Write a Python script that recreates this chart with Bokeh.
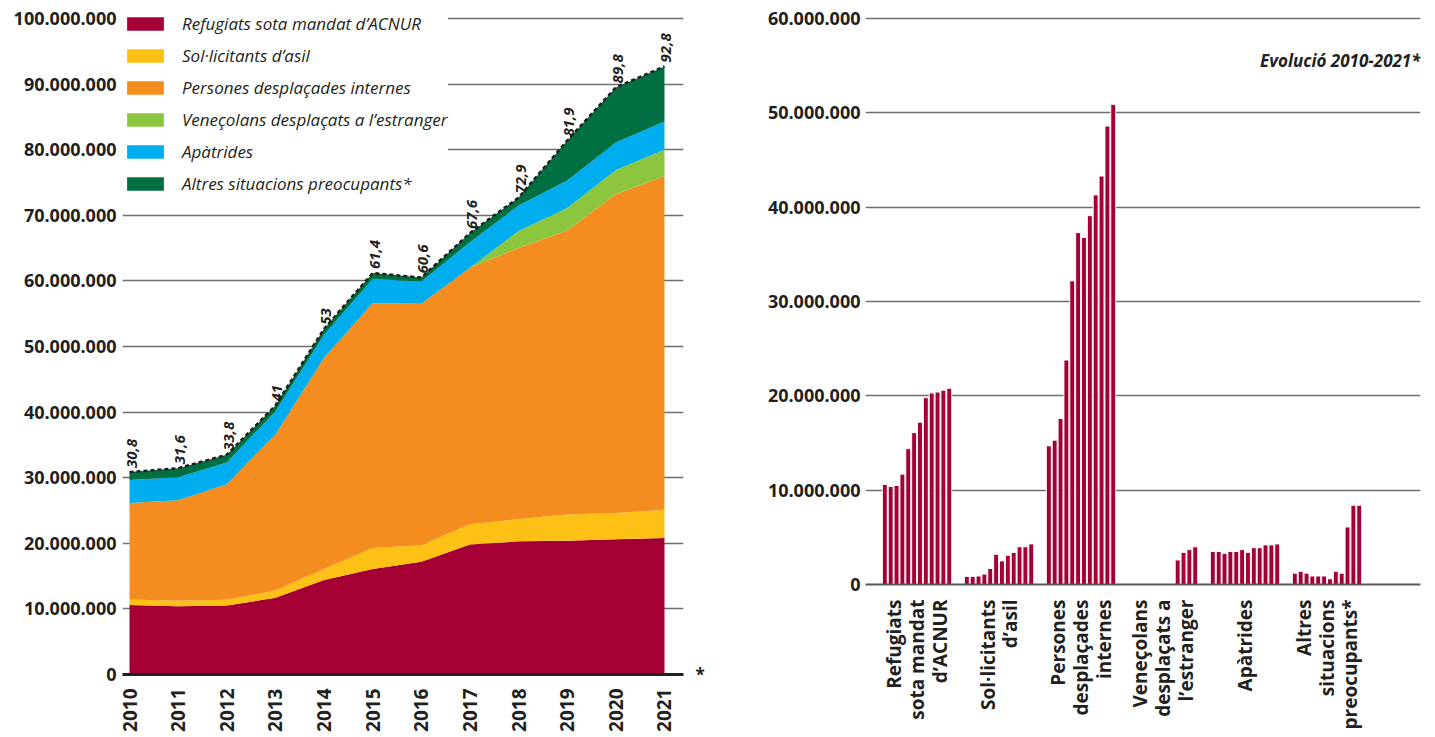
import math
from bokeh.plotting import figure
from bokeh.models import ColumnDataSource, FixedTicker, Label, LinearAxis
from bokeh.layouts import row
from bokeh.embed import file_html
from bokeh.resources import INLINE
from bokeh.core.properties import value

# ---------------- data (millions of people) ----------------
years = list(range(2010, 2022))
refugiats = [10.6, 10.4, 10.5, 11.7, 14.4, 16.1, 17.2, 19.8, 20.3, 20.4, 20.6, 20.8]
sollicitants = [0.85, 0.85, 0.9, 1.1, 1.7, 3.2, 2.5, 3.1, 3.4, 4.0, 4.0, 4.3]
desplacades = [14.7, 15.3, 17.6, 23.8, 32.2, 37.3, 36.8, 39.1, 41.3, 43.3, 48.6, 50.9]
venecolans = [0, 0, 0, 0, 0, 0, 0, 0, 2.6, 3.4, 3.7, 4.0]
apatrides = [3.5, 3.5, 3.3, 3.5, 3.5, 3.7, 3.4, 3.9, 3.9, 4.2, 4.2, 4.3]
altres = [1.2, 1.4, 1.2, 0.9, 0.9, 0.9, 0.6, 1.4, 1.2, 6.1, 8.4, 8.4]
totals = [30.8, 31.6, 33.8, 41, 53, 61.4, 60.6, 67.6, 72.9, 81.9, 89.8, 92.8]

series_names = [
    "Refugiats sota mandat d\u2019ACNUR",
    "Sol\u00b7licitants d\u2019asil",
    "Persones despla\u00e7ades internes",
    "Vene\u00e7olans despla\u00e7ats a l\u2019estranger",
    "Ap\u00e0trides",
    "Altres situacions preocupants*",
]
category_labels = [
    "Refugiats\nsota mandat\nd\u2019ACNUR",
    "Sol\u00b7licitants\nd\u2019asil",
    "Persones\ndespla\u00e7ades\ninternes",
    "Vene\u00e7olans\ndespla\u00e7ats a\nl\u2019estranger",
    "Ap\u00e0trides",
    "Altres\nsituacions\npreocupants*",
]
colors = ["#a50034", "#fcc114", "#f48c20", "#8cc63f", "#00aeef", "#007042"]
left_ticks = [0, 10_000_000, 20_000_000, 30_000_000, 40_000_000, 50_000_000,
              60_000_000, 70_000_000, 80_000_000, 90_000_000, 100_000_000]
right_ticks = [0, 10_000_000, 20_000_000, 30_000_000, 40_000_000, 50_000_000, 60_000_000]
title_text = "Evoluci\u00f3 2010-2021*"
footnote_mark = "*"

M = 1_000_000
TXT = "#231f20"
GRID = "#6d6e71"
FONT = "Open Sans"


def fmt(v):
    return f"{v:,}".replace(",", ".")


all_series = [refugiats, sollicitants, desplacades, venecolans, apatrides, altres]
keys = ["s0", "s1", "s2", "s3", "s4", "s5"]

# ---------------- left: stacked areas ----------------
data = {"year": years}
for k, s in zip(keys, all_series):
    data[k] = [v * M for v in s]
data["top"] = [sum(vals) * M for vals in zip(*all_series)]
data["label"] = [f"{t:g}".replace(".", ",") for t in totals]
src = ColumnDataSource(data)

p1 = figure(width=718, height=735, x_range=(2009.856, 2021.391), y_range=(0, 100.915e6),
            output_backend="svg", toolbar_location=None, frame_align=False,
            min_border_left=122, min_border_right=35, min_border_top=12, min_border_bottom=61)
p1.varea_stack(stackers=keys, x="year", color=colors, source=src, legend_label=series_names)
p1.line(x="year", y="top", source=src, line_color=TXT, line_width=2.5, line_dash="4 3")
p1.text(x="year", y="top", text="label", source=src, angle=math.pi / 2,
        text_align="left", text_baseline="middle", x_offset=2, y_offset=-4,
        text_font=value(FONT), text_font_style="bold italic", text_font_size="15px",
        text_color=TXT)

p1.xaxis.ticker = FixedTicker(ticks=years)
p1.xaxis.major_label_orientation = math.pi / 2
p1.xaxis.major_label_text_font = FONT
p1.xaxis.major_label_text_font_style = "bold"
p1.xaxis.major_label_text_font_size = "19px"
p1.xaxis.major_label_text_color = TXT
p1.xaxis.major_label_standoff = 14
p1.xaxis.major_tick_out = 0
p1.xaxis.major_tick_in = 0
p1.xaxis.axis_line_width = 3
p1.xaxis.axis_line_color = TXT
p1.xaxis.major_tick_line_color = None
p1.xaxis.minor_tick_line_color = None
p1.xgrid.grid_line_color = None

p1.yaxis.ticker = FixedTicker(ticks=left_ticks)
p1.yaxis.major_label_overrides = {t: fmt(t) for t in left_ticks}
p1.yaxis.major_label_text_font = FONT
p1.yaxis.major_label_text_font_style = "bold"
p1.yaxis.major_label_text_font_size = "18px"
p1.yaxis.major_label_text_color = TXT
p1.yaxis.major_label_standoff = 6
p1.yaxis.major_tick_out = 0
p1.yaxis.major_tick_in = 0
p1.yaxis.axis_line_color = None
p1.yaxis.major_tick_line_color = None
p1.yaxis.minor_tick_line_color = None
p1.ygrid.grid_line_color = GRID
p1.ygrid.grid_line_width = 1.5
p1.outline_line_color = None

# footnote asterisk at the right end of the baseline, drawn as a one-tick axis
star_axis = LinearAxis(ticker=FixedTicker(ticks=[0]), major_label_overrides={0: footnote_mark},
                       axis_line_color=None, major_tick_line_color=None, major_tick_out=0,
                       major_tick_in=0, minor_tick_line_color=None, major_label_standoff=12,
                       major_label_text_font=FONT, major_label_text_font_style="bold",
                       major_label_text_font_size="17px", major_label_text_color=TXT)
p1.add_layout(star_axis, "right")

lg = p1.legend[0]
lg.location = "top_left"
lg.margin = 0
lg.padding = 8
lg.glyph_width = 46
lg.glyph_height = 17
lg.label_height = 17
lg.spacing = 9
lg.label_standoff = 14
lg.label_text_font = FONT
lg.label_text_font_style = "italic"
lg.label_text_font_size = "17px"
lg.label_text_color = TXT
lg.background_fill_color = "white"
lg.background_fill_alpha = 1
lg.border_line_color = None

# ---------------- right: grouped bars ----------------
GROUP_STEP = 14
bx, btop = [], []
for g, s in enumerate(all_series):
    for i, v in enumerate(s):
        bx.append(g * GROUP_STEP + i)
        btop.append(v * M)
bsrc = ColumnDataSource(dict(x=bx, top=btop))
centers = [g * GROUP_STEP + (len(years) - 1) / 2 for g in range(len(all_series))]

p2 = figure(width=707, height=733, x_range=(-3.3, 91.46), y_range=(0, 60.64e6),
            output_backend="svg", toolbar_location=None, frame_align=False,
            min_border_left=147, min_border_right=5, min_border_top=12, min_border_bottom=149)
p2.vbar(x="x", top="top", bottom=0, width=0.84, source=bsrc,
        fill_color="#a50034", line_color="white", line_width=0.95)

p2.xaxis.ticker = FixedTicker(ticks=centers)
p2.xaxis.major_label_overrides = {c: lab for c, lab in zip(centers, category_labels)}
p2.xaxis.major_label_orientation = math.pi / 2
p2.xaxis.major_label_text_font = FONT
p2.xaxis.major_label_text_font_style = "bold"
p2.xaxis.major_label_text_font_size = "19px"
p2.xaxis.major_label_text_color = TXT
p2.xaxis.major_label_text_line_height = 0.88
p2.xaxis.major_label_standoff = 15
p2.xaxis.major_tick_out = 0
p2.xaxis.major_tick_in = 0
p2.xaxis.axis_line_width = 2
p2.xaxis.axis_line_color = "#58595b"
p2.xaxis.major_tick_line_color = None
p2.xaxis.minor_tick_line_color = None
p2.xgrid.grid_line_color = None

p2.yaxis.ticker = FixedTicker(ticks=right_ticks)
p2.yaxis.major_label_overrides = {t: fmt(t) for t in right_ticks}
p2.yaxis.major_label_text_font = FONT
p2.yaxis.major_label_text_font_style = "bold"
p2.yaxis.major_label_text_font_size = "18px"
p2.yaxis.major_label_text_color = TXT
p2.yaxis.major_label_standoff = 5
p2.yaxis.major_tick_out = 0
p2.yaxis.major_tick_in = 0
p2.yaxis.axis_line_color = None
p2.yaxis.major_tick_line_color = None
p2.yaxis.minor_tick_line_color = None
p2.ygrid.grid_line_color = GRID
p2.ygrid.grid_line_width = 1.5
p2.outline_line_color = None

p2.add_layout(Label(x=555, y=524, x_units="screen", y_units="screen", text=title_text,
                    text_align="right", text_baseline="middle", text_font=FONT,
                    text_font_style="bold italic", text_font_size="17px", text_color=TXT))

layout = row(p1, p2, spacing=0)
open("out.html", "w").write(file_html(layout, INLINE))
